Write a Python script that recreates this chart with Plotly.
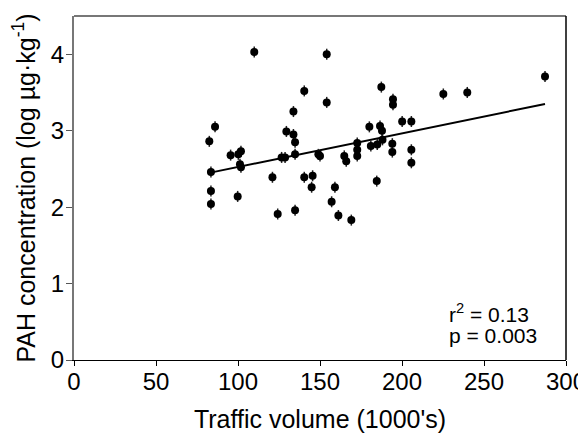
import plotly.graph_objects as go

traffic = [82.5, 83.5, 83.5, 83.5, 86.0, 95.5, 100.2, 101.8, 101.2, 101.8,
           99.8, 109.9, 121.0, 124.2, 126.6, 128.7, 129.5, 133.8, 133.8, 134.8,
           134.8, 134.8, 140.4, 140.4, 145.5, 144.9, 149.0, 150.0, 154.1, 154.1,
           157.1, 159.1, 161.2, 164.8, 166.0, 169.1, 172.7, 172.7, 172.7, 180.1,
           181.0, 184.6, 184.9, 186.6, 187.4, 187.8, 188.1, 194.5, 194.5, 194.1,
           194.1, 200.1, 205.7, 205.7, 205.7, 225.2, 239.8, 287.2]
pah = [2.86, 2.46, 2.21, 2.04, 3.05, 2.68, 2.69, 2.73, 2.56, 2.52,
       2.14, 4.03, 2.39, 1.91, 2.65, 2.65, 2.99, 3.25, 2.95, 2.85,
       2.69, 1.96, 3.52, 2.39, 2.41, 2.26, 2.69, 2.67, 4.00, 3.37,
       2.07, 2.26, 1.89, 2.67, 2.60, 1.83, 2.84, 2.75, 2.67, 3.05,
       2.80, 2.34, 2.82, 3.06, 3.57, 3.00, 2.88, 3.41, 3.34, 2.83,
       2.72, 3.12, 3.12, 2.75, 2.58, 3.48, 3.50, 3.71]
pah_err = 0.072

fit_intercept = 2.085
fit_slope = 0.0044

x_ticks = [0, 50, 100, 150, 200, 250, 300]
y_ticks = [0, 1, 2, 3, 4]

fit_x = [min(traffic), max(traffic)]
fit_y = [fit_intercept + fit_slope * v for v in fit_x]

FONT = "Liberation Sans, Arial, sans-serif"

fig = go.Figure()
fig.add_trace(go.Scatter(
    x=fit_x, y=fit_y, mode="lines",
    line=dict(color="black", width=2), showlegend=False, hoverinfo="skip"))
fig.add_trace(go.Scatter(
    x=traffic, y=pah, mode="markers",
    marker=dict(color="black", size=8),
    error_y=dict(type="constant", value=pah_err, color="#222", thickness=1.5, width=0),
    showlegend=False))

# page body has an 8px default margin, so the figure is shrunk by 8px
fig.update_layout(
    width=578, height=425,
    margin=dict(l=66, r=20, t=8, b=73),
    plot_bgcolor="white", paper_bgcolor="white",
    font=dict(family=FONT, size=24, color="black"),
    xaxis=dict(range=[0, 300], tickvals=x_ticks, ticks="outside", ticklen=5,
               tickcolor="black", showline=True, linecolor="black", linewidth=1,
               showgrid=False, zeroline=False, tickfont=dict(size=24),
               automargin=False, ticklabeloverflow="allow", ticklabelstandoff=-5,
               title=dict(text="Traffic volume (1000's)", standoff=17,
                          font=dict(size=25))),
    yaxis=dict(range=[0, 4.5], tickvals=y_ticks, ticks="outside", ticklen=6,
               tickcolor="#555", showline=True, linecolor="#777", linewidth=2,
               showgrid=False, zeroline=False, tickfont=dict(size=24),
               automargin=False, ticklabeloverflow="allow", ticklabelstandoff=-3,
               title=dict(text="PAH concentration (log µg·kg<sup>-1</sup>)", standoff=9,
                          font=dict(size=25))),
    shapes=[
        dict(type="line", xref="paper", yref="paper", x0=0, x1=1, y0=1, y1=1,
             line=dict(color="#777", width=2)),
        dict(type="line", xref="paper", yref="paper", x0=1, x1=1, y0=0, y1=1,
             line=dict(color="black", width=1.5)),
    ],
    annotations=[
        dict(x=227.4, y=0.62, xref="x", yref="y", text="r<sup>2</sup> = 0.13",
             showarrow=False, xanchor="left", yanchor="middle",
             font=dict(size=21, family=FONT)),
        dict(x=227.4, y=0.315, xref="x", yref="y", text="p = 0.003",
             showarrow=False, xanchor="left", yanchor="middle",
             font=dict(size=21, family=FONT)),
    ],
)

fig.write_html("out.html")
